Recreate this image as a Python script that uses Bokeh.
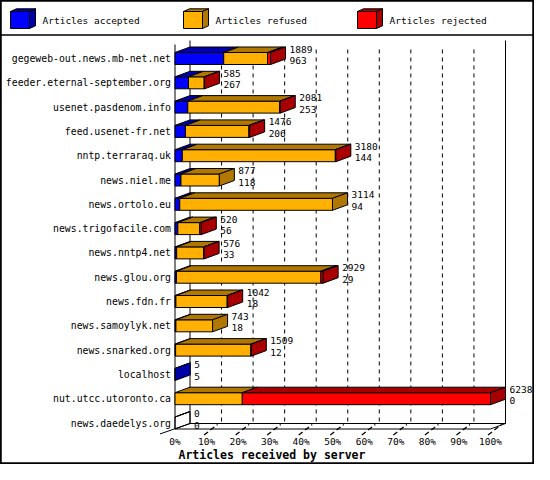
from bokeh.plotting import figure
from bokeh.models import Range1d, Span, ColumnDataSource
from bokeh.embed import file_html
from bokeh.resources import INLINE
from bokeh.core.properties import value

# ---------------- data ----------------
servers = ["gegeweb-out.news.mb-net.net", "feeder.eternal-september.org", "usenet.pasdenom.info",
           "feed.usenet-fr.net", "nntp.terraraq.uk", "news.niel.me", "news.ortolo.eu",
           "news.trigofacile.com", "news.nntp4.net", "news.glou.org", "news.fdn.fr",
           "news.samoylyk.net", "news.snarked.org", "localhost", "nut.utcc.utoronto.ca",
           "news.daedelys.org"]
accepted = [963, 267, 253, 206, 144, 118, 94, 56, 33, 29, 18, 18, 12, 5, 0, 0]
refused = [866, 310, 1818, 1255, 3026, 759, 3020, 434, 533, 2855, 1014, 725, 1489, 0, 1330, 0]
rejected = [60, 8, 10, 15, 10, 0, 0, 30, 10, 45, 10, 0, 8, 0, 4908, 0]
series_names = ["Articles accepted", "Articles refused", "Articles rejected"]
tick_percents = [0, 10, 20, 30, 40, 50, 60, 70, 80, 90, 100]
tick_labels = ["0%", "10%", "20%", "30%", "40%", "50%", "60%", "70%", "80%", "90%", "100%"]
axis_title = "Articles received by server"

front_colors = ["#0000FF", "#FFB000", "#FF0000"]
shade_colors = ["#0000A8", "#B07800", "#A80000"]

# ---------------- layout ----------------
W, H = 534, 464
X0C = 174.5   # canvas px of 0 %
PXX = 3.155   # px per 1 %
Y0C = 58.0    # canvas px of first row centre
PXY = 24.3    # px per row


def ux(px):
    return px / PXX


def uy(px):
    return px / PXY


def xd(cx):
    return (cx - X0C) / PXX


def yd(cy):
    return (cy - Y0C) / PXY


BAR_HALF = 6
DX = ux(15)
DY = -uy(5.5)
MONO = value("DejaVu Sans Mono")
FS = "9.5px"
FS_CAT = "9.8px"

p = figure(width=W, height=H, x_range=Range1d(xd(0), xd(W)), y_range=Range1d(yd(H), yd(0)),
           output_backend="svg", toolbar_location=None, x_axis_type=None, y_axis_type=None,
           min_border=0, outline_line_color="black", outline_line_width=2.5,
           background_fill_color="white", border_fill_color="white")
p.grid.visible = False

n = len(servers)
totals = [a + r + j for a, r, j in zip(accepted, refused, rejected)]
vmax = max(totals)

ff = (n - 1) + uy(BAR_HALF)        # front floor line
fb = ff + DY                       # back floor line

# legend separator
p.add_layout(Span(location=yd(34.5), dimension="width", line_color="black", line_width=1.5))

# walls / floor
wall_x0 = [0, DX, 100 + DX, 0, DX, 100, -ux(15)]
wall_y0 = [yd(44), yd(40), yd(40), ff, fb, ff, ff - DY * 0.9]
wall_x1 = [0, DX, 100 + DX, 100, 100 + DX, 100 + DX, DX]
wall_y1 = [ff, fb, fb, ff, fb, fb, fb]
p.segment(x0=wall_x0, y0=wall_y0, x1=wall_x1, y1=wall_y1, line_color="black", line_width=1)

grid_p = [t for t in tick_percents if 0 < t < 100]
p.segment(x0=[t + DX for t in grid_p], y0=[yd(49)] * len(grid_p),
          x1=[t + DX for t in grid_p], y1=[fb] * len(grid_p),
          line_color="black", line_width=1, line_dash="4 4")
tk = [t for t in tick_percents if t > 0]
p.segment(x0=[t - ux(2.5) for t in tk], y0=[ff + uy(6)] * len(tk),
          x1=[t + ux(11) for t in tk], y1=[ff - uy(4.5)] * len(tk),
          line_color="black", line_width=1.3, line_dash="5 3")

# bars
fq = dict(left=[], right=[], top=[], bottom=[], color=[])
fc = dict(xs=[], ys=[], color=[], alpha=[])
for i in range(n):
    yt = i - uy(BAR_HALF)
    yb = i + uy(BAR_HALF)
    cum = 0
    last = None
    for k, v in enumerate((accepted[i], refused[i], rejected[i])):
        if v <= 0:
            continue
        x0 = cum / vmax * 100
        x1 = (cum + v) / vmax * 100
        fq["left"].append(x0); fq["right"].append(x1)
        fq["top"].append(yt); fq["bottom"].append(yb)
        fq["color"].append(front_colors[k])
        fc["xs"].append([x0, x1, x1 + DX, x0 + DX])
        fc["ys"].append([yt, yt, yt + DY, yt + DY])
        fc["color"].append(shade_colors[k]); fc["alpha"].append(1.0)
        cum += v
        last = k
    t = cum / vmax * 100
    if last is None:
        fc["xs"].append([t, t, t + DX, t + DX])
        fc["ys"].append([yt, yt, yt + DY, yt + DY])
        fc["color"].append("white"); fc["alpha"].append(0.0)
        fc["xs"].append([t, t + DX, t + DX, t])
        fc["ys"].append([yt, yt + DY, yb + DY, yb])
        fc["color"].append("white"); fc["alpha"].append(0.0)
    else:
        fc["xs"].append([t, t + DX, t + DX, t])
        fc["ys"].append([yt, yt + DY, yb + DY, yb])
        fc["color"].append(shade_colors[last]); fc["alpha"].append(1.0)

p.quad(source=ColumnDataSource(fq), left="left", right="right", top="top", bottom="bottom",
       fill_color="color", line_color="black", line_width=1)
p.patches(source=ColumnDataSource(fc), xs="xs", ys="ys", fill_color="color", fill_alpha="alpha",
          line_color="black", line_width=1)

# value labels (total above, accepted below)
vx = [tt / vmax * 100 + DX + ux(4) for tt in totals]
p.text(x=vx, y=[i - uy(9.5) for i in range(n)], text=[str(v) for v in totals],
       text_font=MONO, text_font_size=FS, text_baseline="middle", text_align="left", text_color="black")
p.text(x=vx, y=[i + uy(2) for i in range(n)], text=[str(v) for v in accepted],
       text_font=MONO, text_font_size=FS, text_baseline="middle", text_align="left", text_color="black")

# category labels
p.text(x=[xd(170.5)] * n, y=list(range(n)), text=servers, text_font=MONO, text_font_size=FS_CAT,
       text_baseline="middle", text_align="right", text_color="black")

# tick labels
p.text(x=tick_percents, y=[ff + uy(12)] * len(tick_percents), text=tick_labels, text_font=MONO,
       text_font_size=FS, text_baseline="middle", text_align="center", text_color="black")

# axis title
p.text(x=[xd(178)], y=[ff + uy(25.5)], text=[axis_title], text_font=MONO, text_font_size="11.5px",
       text_font_style="bold", text_baseline="middle", text_align="left", text_color="black")

# legend
leg_cube_x = [10, 183, 357]
leg_text_x = [42, 215, 389]
lq = dict(left=[], right=[], top=[], bottom=[], color=[])
lp = dict(xs=[], ys=[], color=[])
for k in range(3):
    cx = leg_cube_x[k]
    l, r = xd(cx), xd(cx + 19)
    t, b = yd(11), yd(28)
    ddx, ddy = ux(6), -uy(2.7)
    lq["left"].append(l); lq["right"].append(r); lq["top"].append(t); lq["bottom"].append(b)
    lq["color"].append(front_colors[k])
    lp["xs"].append([l, r, r + ddx, l + ddx]); lp["ys"].append([t, t, t + ddy, t + ddy])
    lp["color"].append(shade_colors[k])
    lp["xs"].append([r, r + ddx, r + ddx, r]); lp["ys"].append([t, t + ddy, b + ddy, b])
    lp["color"].append(shade_colors[k])
p.quad(source=ColumnDataSource(lq), left="left", right="right", top="top", bottom="bottom",
       fill_color="color", line_color="black", line_width=1)
p.patches(source=ColumnDataSource(lp), xs="xs", ys="ys", fill_color="color",
          line_color="black", line_width=1)
p.text(x=[xd(c) for c in leg_text_x], y=[yd(20)] * 3, text=series_names, text_font=MONO,
       text_font_size=FS, text_baseline="middle", text_align="left", text_color="black")

open("out.html", "w").write(file_html(p, INLINE))
